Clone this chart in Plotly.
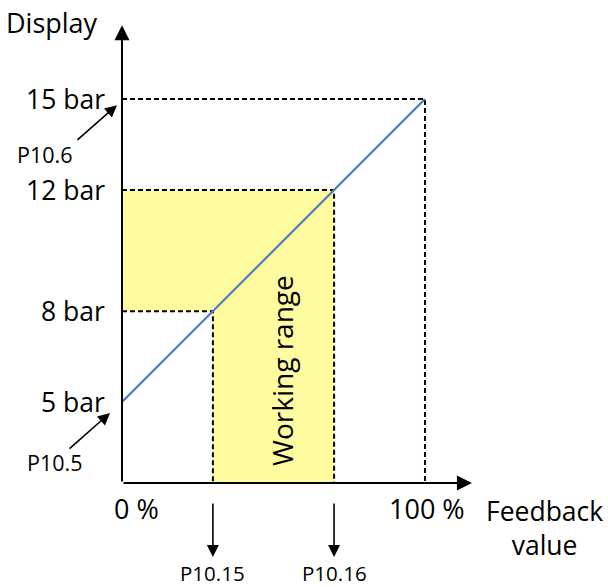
import plotly.graph_objects as go

# ---- data ----
feedback_pct = [0, 30, 70, 100]          # % feedback value
display_bar = [5, 8, 12, 15]             # displayed value (bar)
y_tick_text = ["5 bar", "8 bar", "12 bar", "15 bar"]
x_tick_text = ["0 %", "100 %"]
param_y = ["P10.5", "P10.6"]             # parameters for display min/max
param_x = ["P10.15", "P10.16"]           # parameters for working range
axis_floor = 2.33                        # display value where the x-axis sits
axis_top = 17.44                         # y-axis arrow tip
axis_right = 115.5                       # x-axis arrow tip

FONT = "Open Sans"
BLACK = "#000000"
BLUE = "#4A7EBB"
YELLOW = "#FFFCA0"

fig = go.Figure()

# working-range fill (L-shaped)
lo_x, hi_x = feedback_pct[1], feedback_pct[2]
lo_y, hi_y = display_bar[1], display_bar[2]
fig.add_trace(go.Scatter(
    x=[feedback_pct[0], feedback_pct[0], hi_x, hi_x, lo_x, lo_x, feedback_pct[0]],
    y=[lo_y, hi_y, hi_y, axis_floor, axis_floor, lo_y, lo_y],
    fill="toself", fillcolor=YELLOW, mode="lines", line=dict(width=0),
    hoverinfo="skip", showlegend=False))

# dashed guide lines
gx, gy = [], []
for fx, dy in zip(feedback_pct[1:], display_bar[1:]):
    gx += [feedback_pct[0], fx, fx, None]
    gy += [dy, dy, axis_floor, None]
fig.add_trace(go.Scatter(x=gx, y=gy, mode="lines",
                         line=dict(color=BLACK, width=2, dash="5px,3px"),
                         hoverinfo="skip", showlegend=False))

# characteristic line
fig.add_trace(go.Scatter(x=[feedback_pct[0], feedback_pct[-1]],
                         y=[display_bar[0], display_bar[-1]], mode="lines",
                         line=dict(color=BLUE, width=2.2),
                         hoverinfo="skip", showlegend=False))

ann = []

def arrow(x0, y0, x1, y1, w=1.5, size=1.1):
    ann.append(dict(x=x1, y=y1, ax=x0, ay=y0, xref="x", yref="y",
                    axref="x", ayref="y", text="", showarrow=True,
                    arrowhead=2, arrowsize=size, arrowwidth=w,
                    arrowcolor=BLACK, standoff=0, startstandoff=0))

def label(x, y, t, size=27, xanchor="center", angle=0):
    ann.append(dict(x=x, y=y, xref="x", yref="y", text=t, showarrow=False,
                    xanchor=xanchor, yanchor="middle", textangle=angle,
                    font=dict(family=FONT, size=size, color=BLACK)))

# axes
arrow(0, axis_floor, 0, axis_top, w=2, size=1.5)
arrow(0, axis_floor, axis_right, axis_floor, w=2, size=1.5)

# y tick labels
for v, t in zip(display_bar, y_tick_text):
    label(-4.9, v, t, size=26.5, xanchor="right")

# x tick labels
label(4.9, 1.50, x_tick_text[0], size=27)
label(100.7, 1.50, x_tick_text[1], size=27)

# axis titles
label(-23.1, 17.54, "Display", size=27)
label(139.6, 0.83, "Feedback<br>value", size=26.5)

# parameter arrows & labels
arrow(-15.2, 13.61, -1.65, 14.80, w=1.6, size=1.5)
label(-25.7, 13.18, param_y[1], size=21.5)
arrow(-17.8, 3.42, -3.96, 4.64, w=1.6, size=1.5)
label(-22.4, 2.99, param_y[0], size=21.5)

for fx, name in zip([lo_x, hi_x], param_x):
    arrow(fx, 1.70, fx, -0.115, w=1.6, size=1.5)
    label(fx, -0.63, name, size=20.5)

# working range text
label(52.8, 6.06, "Working range", size=28, angle=-90)

fig.update_layout(
    width=608, height=587,
    margin=dict(l=0, r=0, t=0, b=0),
    paper_bgcolor="white", plot_bgcolor="white",
    xaxis=dict(range=[-40.26, 160.4], visible=False, fixedrange=True),
    yaxis=dict(range=[-1.105, 18.27], visible=False, fixedrange=True),
    annotations=ann, showlegend=False,
)

# remove the default 8px page margin so the figure fills the window exactly
fig.write_html("out.html",
               config={"displayModeBar": False, "staticPlot": True},
               post_script="document.body.style.margin='0';"
                           "document.body.style.overflow='hidden';")
